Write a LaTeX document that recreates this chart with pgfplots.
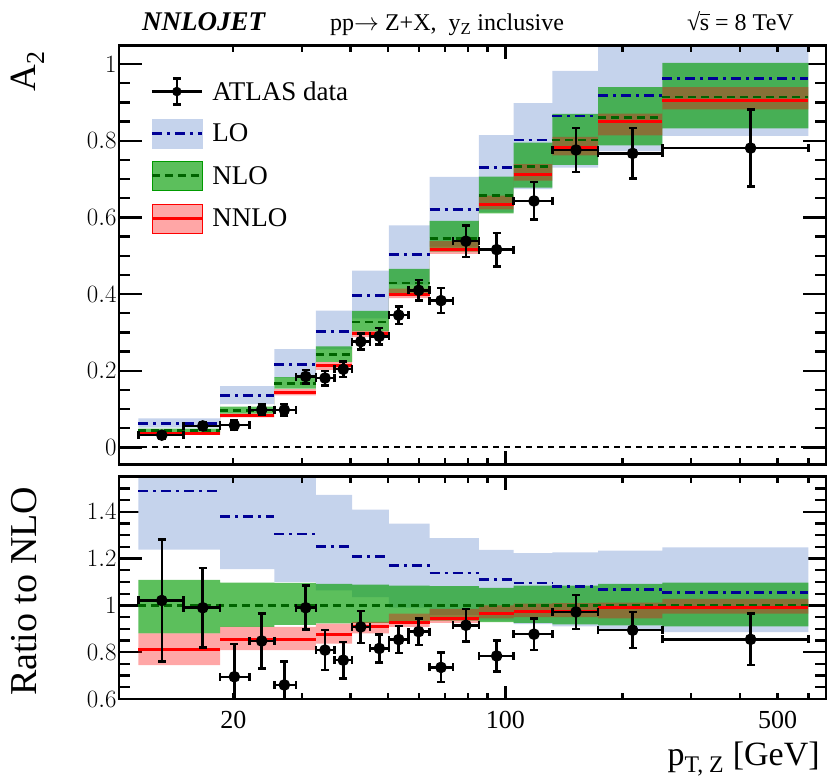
\documentclass[border=0pt]{standalone}
\usepackage{fontspec}
\setmainfont{Liberation Serif}
\usepackage{amsmath}
\usepackage{pgfplots}
\pgfplotsset{compat=1.18}
\usepackage{pgfplotstable}

\definecolor{lob}{RGB}{197,211,236}
\definecolor{lol}{RGB}{0,0,150}
\definecolor{nlob}{RGB}{0,155,0}
\definecolor{nlol}{RGB}{0,100,0}
\definecolor{nnb}{RGB}{255,0,0}
\definecolor{nnl}{RGB}{255,0,0}

% central values, left bin edges (last row repeated at 600)
\pgfplotstableread{
x     lo     nlo    nn
11.4  0.0628 0.044  0.0360
18.5  0.135  0.097  0.0845
25.5  0.217  0.1675 0.1432
32.6  0.303  0.2416 0.213
40.4  0.397  0.327  0.298
50.2  0.503  0.429  0.399
63.9  0.621  0.546  0.517
85.4  0.730  0.657  0.634
105   0.802  0.733  0.712
132   0.865  0.802  0.783
173   0.918  0.861  0.850
253   0.962  0.914  0.906
600   0.962  0.914  0.906
}\topth

\pgfplotstableread{
x     lo     nn
11.4  1.489  0.813
18.5  1.379  0.855
25.5  1.305  0.855
32.6  1.252  0.877
40.4  1.210  0.908
50.2  1.170  0.929
63.9  1.138  0.943
85.4  1.111  0.965
105   1.095  0.972
132   1.081  0.972
173   1.068  0.989
253   1.054  0.993
600   1.054  0.993
}\ratth

% ATLAS data
\pgfplotstableread{
x      xm     xp     a      ea     r      er
13.10  1.70   1.80   0.032  0.0081 1.021  0.26
16.69  1.79   1.81   0.056  0.0096 0.990  0.17
20.12  1.62   1.88   0.058  0.0117 0.695  0.14
23.65  1.65   1.85   0.098  0.0135 0.848  0.117
27.04  1.54   1.96   0.098  0.0148 0.660  0.10
30.68  1.68   1.92   0.185  0.0176 0.990  0.094
34.40  1.80   2.00   0.181  0.019  0.809  0.085
38.32  1.92   2.08   0.204  0.0208 0.766  0.078
42.49  2.09   2.41   0.276  0.021  0.908  0.069
47.42  2.52   2.78   0.290  0.0213 0.816  0.060
53.19  2.99   3.21   0.345  0.023  0.854  0.057
59.86  3.46   4.04   0.410  0.0263 0.888  0.057
68.31  4.41   5.09   0.383  0.0328 0.735  0.063
79.17  5.77   6.23   0.538  0.0412 0.915  0.070
94.93  9.53   10.07  0.516  0.0434 0.784  0.066
118.4  13.4   13.6   0.643  0.049  0.877  0.067
151.8  19.8   21.2   0.776  0.0575 0.972  0.072
212.2  39.2   40.8   0.767  0.066  0.894  0.077
426.3  173.3  173.7  0.781  0.10   0.855  0.11
}\data

\pgfplotsset{
  dat/.style={black, line width=2.5pt, mark=*, mark size=4.5pt, only marks, forget plot,
    error bars/x dir=both, error bars/x explicit, error bars/y dir=both, error bars/y explicit,
    error bars/error bar style={line width=2.5pt},
    error bars/error mark options={rotate=90, line width=2.5pt, mark size=4pt}},
  loline/.style={lol, line width=2.6pt, dash pattern=on 10pt off 5pt on 3pt off 5pt, jump mark left, forget plot},
  nloline/.style={nlol, line width=2.8pt, dash pattern=on 8pt off 5pt, jump mark left, forget plot},
  nnline/.style={nnl, line width=3pt, jump mark left, forget plot},
  loband/.style={fill=lob, draw=none, forget plot},
  nloband/.style={fill=nlob, fill opacity=0.64, draw=none, forget plot},
  nnband/.style={fill=nnb, fill opacity=0.35, draw=none, forget plot},
}

\begin{document}
\begin{tikzpicture}
\path[use as bounding box] (-119pt,45.7pt) rectangle (711pt,-735.3pt);

\begin{axis}[name=top, at={(0,0)}, anchor=north west,
  xmode=log, width=707pt, height=418.6pt, scale only axis,
  xmin=10.17, xmax=666, ymin=-0.044, ymax=1.048,
  axis line style={line width=2.8pt}, tick style={black, line width=2.3pt},
  major tick length=23pt, minor tick length=11pt,
  xtick={20,100,500}, xticklabels={}, xminorticks=false, xtick style={draw=none},
  ytick={0,0.2,0.4,0.6,0.8,1},
  minor ytick={0.05,0.1,0.15,0.25,0.3,0.35,0.45,0.5,0.55,0.65,0.7,0.75,0.85,0.9,0.95},
  tick label style={font=\fontsize{26}{28}\selectfont},
  yticklabel style={xshift=1pt},
  ylabel={A\textsubscript{2}},
  ylabel style={at={(axis description cs:-0.118,0.995)}, anchor=base east, font=\fontsize{37}{40}\selectfont},
  legend style={at={(axis description cs:0.044,0.925)}, anchor=north west, draw=none, fill=none,
    font=\fontsize{27}{30}\selectfont, row sep=13pt, inner sep=0pt, nodes={inner sep=2pt},
    /tikz/every odd column/.append style={column sep=7pt}},
  legend cell align=left,
]
\addlegendimage{legend image code/.code={
  \draw[black, line width=2.5pt] (0pt,0pt) -- (50pt,0pt);
  \draw[black, line width=2.5pt] (25pt,-13pt) -- (25pt,13pt);
  \draw[black, line width=2.5pt] (21pt,13pt) -- (29pt,13pt) (21pt,-13pt) -- (29pt,-13pt);
  \fill[black] (25pt,0pt) circle (4.5pt);}}
\addlegendentry{ATLAS data}
\addlegendimage{legend image code/.code={
  \fill[lob] (0pt,-14.5pt) rectangle (50pt,14.5pt);
  \draw[lol, line width=2.6pt, dash pattern=on 10pt off 5pt on 3pt off 5pt] (0pt,0pt) -- (50pt,0pt);}}
\addlegendentry{LO}
\addlegendimage{legend image code/.code={
  \fill[nlob, fill opacity=0.64] (0pt,-14.5pt) rectangle (50pt,14.5pt);
  \draw[nlol, line width=2.8pt, dash pattern=on 8pt off 5pt] (0pt,0pt) -- (50pt,0pt);}}
\addlegendentry{NLO}
\addlegendimage{legend image code/.code={
  \fill[nnb, fill opacity=0.35] (0pt,-14.5pt) rectangle (50pt,14.5pt);
  \draw[nnl, line width=3pt] (0pt,0pt) -- (50pt,0pt);}}
\addlegendentry{NNLO}

% LO band
\addplot[loband] coordinates {
(11.4,0.076)(18.5,0.076)(18.5,0.160)(25.5,0.160)(25.5,0.2565)(32.6,0.2565)(32.6,0.357)(40.4,0.357)
(40.4,0.4615)(50.2,0.4615)(50.2,0.579)(63.9,0.579)(63.9,0.706)(85.4,0.706)(85.4,0.815)(105,0.815)
(105,0.898)(132,0.898)(132,0.982)(173,0.982)(173,1.062)(253,1.062)(253,1.141)(600,1.141)
(600,0.813)(253,0.813)(253,0.773)(173,0.773)(173,0.730)(132,0.730)(132,0.674)(105,0.674)
(105,0.614)(85.4,0.614)(85.4,0.524)(63.9,0.524)(63.9,0.425)(50.2,0.425)(50.2,0.337)(40.4,0.337)
(40.4,0.256)(32.6,0.256)(32.6,0.182)(25.5,0.182)(25.5,0.113)(18.5,0.113)(18.5,0.052)(11.4,0.052)};
% NLO band
\addplot[nloband] coordinates {
(11.4,0.0488)(18.5,0.0488)(18.5,0.1064)(25.5,0.1064)(25.5,0.1836)(32.6,0.1836)(32.6,0.2638)(40.4,0.2638)
(40.4,0.3561)(50.2,0.3561)(50.2,0.4655)(63.9,0.4655)(63.9,0.5908)(85.4,0.5908)(85.4,0.7063)(105,0.7063)
(105,0.7953)(132,0.7953)(132,0.870)(173,0.870)(173,0.940)(253,0.940)(253,1.003)(600,1.003)
(600,0.832)(253,0.832)(253,0.788)(173,0.788)(173,0.737)(132,0.737)(132,0.678)(105,0.678)
(105,0.6104)(85.4,0.6104)(85.4,0.5105)(63.9,0.5105)(63.9,0.399)(50.2,0.399)(50.2,0.3025)(40.4,0.3025)
(40.4,0.2230)(32.6,0.2230)(32.6,0.1536)(25.5,0.1536)(25.5,0.0881)(18.5,0.0881)(18.5,0.0387)(11.4,0.0387)};
% NNLO band
\addplot[nnband] coordinates {
(11.4,0.0387)(18.5,0.0387)(18.5,0.0881)(25.5,0.0881)(25.5,0.1521)(32.6,0.1521)(32.6,0.2228)(40.4,0.2228)
(40.4,0.3041)(50.2,0.3041)(50.2,0.414)(63.9,0.414)(63.9,0.538)(85.4,0.538)(85.4,0.657)(105,0.657)
(105,0.739)(132,0.739)(132,0.810)(173,0.810)(173,0.871)(253,0.871)(253,0.940)(600,0.940)
(600,0.882)(253,0.882)(253,0.814)(173,0.814)(173,0.762)(132,0.762)(132,0.696)(105,0.696)
(105,0.621)(85.4,0.621)(85.4,0.505)(63.9,0.505)(63.9,0.3895)(50.2,0.3895)(50.2,0.2878)(40.4,0.2878)
(40.4,0.2022)(32.6,0.2022)(32.6,0.1355)(25.5,0.1355)(25.5,0.0785)(18.5,0.0785)(18.5,0.0328)(11.4,0.0328)};

\addplot[loline] table[x=x, y=lo] \topth;
\addplot[nloline] table[x=x, y=nlo] \topth;
\addplot[nnline] table[x=x, y=nn] \topth;
\addplot[black, line width=2pt, dash pattern=on 6pt off 5pt, forget plot] coordinates {(10.17,0) (666,0)};

\addplot[dat] table[x=x, y=a, x error plus=xp, x error minus=xm, y error=ea] \data;
\end{axis}
\begin{axis}[at={(0,0)}, anchor=north west,
  xmode=log, width=707pt, height=418.6pt, scale only axis,
  xmin=10.17, xmax=666, ymin=0, ymax=1, hide y axis,
  axis line style={line width=2.8pt}, tick style={black, line width=2.3pt},
  xtick={100}, xticklabels={}, major tick length=13pt,
  minor xtick={20,30,40,50,60,70,80,90,200,300,400,500,600}, minor tick length=6pt]
\end{axis}

\begin{axis}[name=bot, at={(0,-431pt)}, anchor=north west,
  xmode=log, width=707pt, height=222.3pt, scale only axis,
  xmin=10.17, xmax=666, ymin=0.6, ymax=1.55,
  axis line style={line width=2.8pt}, tick style={black, line width=2.3pt},
  major tick length=23pt, minor tick length=11pt,
  xtick={20,100,500}, xticklabels={20,100,500}, xminorticks=false, xtick style={draw=none},
  ytick={0.6,0.8,1,1.2,1.4},
  minor ytick={0.65,0.7,0.75,0.85,0.9,0.95,1.05,1.1,1.15,1.25,1.3,1.35,1.45,1.5},
  tick label style={font=\fontsize{26}{28}\selectfont},
  yticklabel style={xshift=1pt},
  xticklabel style={yshift=-9pt},
  ylabel={Ratio to NLO},
  ylabel style={at={(axis description cs:-0.117,0.97)}, anchor=base east, font=\fontsize{38}{42}\selectfont},
  xlabel={p\textsubscript{T, Z} [GeV]},
  xlabel style={at={(axis description cs:0.996,-0.297)}, anchor=base east, font=\fontsize{34}{38}\selectfont},
]
\addplot[loband] coordinates {
(11.4,1.75)(18.5,1.75)(18.5,1.65)(25.5,1.65)(25.5,1.58)(32.6,1.58)(32.6,1.472)(40.4,1.472)
(40.4,1.409)(50.2,1.409)(50.2,1.350)(63.9,1.350)(63.9,1.288)(85.4,1.288)(85.4,1.237)(105,1.237)
(105,1.223)(132,1.223)(132,1.227)(173,1.227)(173,1.234)(253,1.234)(253,1.248)(600,1.248)
(600,0.886)(253,0.886)(253,0.898)(173,0.898)(173,0.910)(132,0.910)(132,0.920)(105,0.920)
(105,0.935)(85.4,0.935)(85.4,0.960)(63.9,0.960)(63.9,0.990)(50.2,0.990)(50.2,1.035)(40.4,1.035)
(40.4,1.064)(32.6,1.064)(32.6,1.099)(25.5,1.099)(25.5,1.155)(18.5,1.155)(18.5,1.238)(11.4,1.238)};
\addplot[nloband] coordinates {
(11.4,1.109)(18.5,1.109)(18.5,1.097)(25.5,1.097)(25.5,1.096)(32.6,1.096)(32.6,1.092)(40.4,1.092)
(40.4,1.089)(50.2,1.089)(50.2,1.085)(63.9,1.085)(63.9,1.082)(85.4,1.082)(85.4,1.075)(105,1.075)
(105,1.085)(132,1.085)(132,1.085)(173,1.085)(173,1.092)(253,1.092)(253,1.097)(600,1.097)
(600,0.910)(253,0.910)(253,0.915)(173,0.915)(173,0.919)(132,0.919)(132,0.925)(105,0.925)
(105,0.929)(85.4,0.929)(85.4,0.935)(63.9,0.935)(63.9,0.930)(50.2,0.930)(50.2,0.925)(40.4,0.925)
(40.4,0.923)(32.6,0.923)(32.6,0.917)(25.5,0.917)(25.5,0.908)(18.5,0.908)(18.5,0.880)(11.4,0.880)};
\addplot[nnband] coordinates {
(11.4,0.880)(18.5,0.880)(18.5,0.908)(25.5,0.908)(25.5,0.908)(32.6,0.908)(32.6,0.922)(40.4,0.922)
(40.4,0.930)(50.2,0.930)(50.2,0.965)(63.9,0.965)(63.9,0.985)(85.4,0.985)(85.4,1.000)(105,1.000)
(105,1.008)(132,1.008)(132,1.010)(173,1.010)(173,1.012)(253,1.012)(253,1.028)(600,1.028)
(600,0.965)(253,0.965)(253,0.945)(173,0.945)(173,0.950)(132,0.950)(132,0.950)(105,0.950)
(105,0.945)(85.4,0.945)(85.4,0.925)(63.9,0.925)(63.9,0.908)(50.2,0.908)(50.2,0.880)(40.4,0.880)
(40.4,0.837)(32.6,0.837)(32.6,0.809)(25.5,0.809)(25.5,0.809)(18.5,0.809)(18.5,0.745)(11.4,0.745)};

\addplot[loline] table[x=x, y=lo] \ratth;
\addplot[nloline] coordinates {(11.4,1) (600,1)};
\addplot[nnline] table[x=x, y=nn] \ratth;

\addplot[dat] table[x=x, y=r, x error plus=xp, x error minus=xm, y error=er] \data;
\end{axis}
\begin{axis}[at={(0,-431pt)}, anchor=north west,
  xmode=log, width=707pt, height=222.3pt, scale only axis,
  xmin=10.17, xmax=666, ymin=0, ymax=1, hide y axis,
  axis line style={line width=2.8pt}, tick style={black, line width=2.3pt},
  xtick={100}, xticklabels={}, major tick length=13pt,
  minor xtick={20,30,40,50,60,70,80,90,200,300,400,500,600}, minor tick length=6pt]
\end{axis}

\node[anchor=base west, inner sep=0pt, font=\fontsize{27}{30}\selectfont\bfseries\itshape] at ([xshift=23pt, yshift=15pt]top.north west) {NNLOJET};
\node[anchor=base west, inner sep=0pt, font=\fontsize{24}{28}\selectfont] at ([xshift=211pt, yshift=15pt]top.north west) {pp$\rightarrow$ Z+X,\ \ y\textsubscript{Z} inclusive};
\node[anchor=base west, inner sep=0pt, font=\fontsize{24}{28}\selectfont] at ([xshift=568pt, yshift=15pt]top.north west) {√\kern-0.02em\rlap{\rule[0.66em]{0.42em}{0.05em}}s = 8 TeV};
\end{tikzpicture}
\end{document}
